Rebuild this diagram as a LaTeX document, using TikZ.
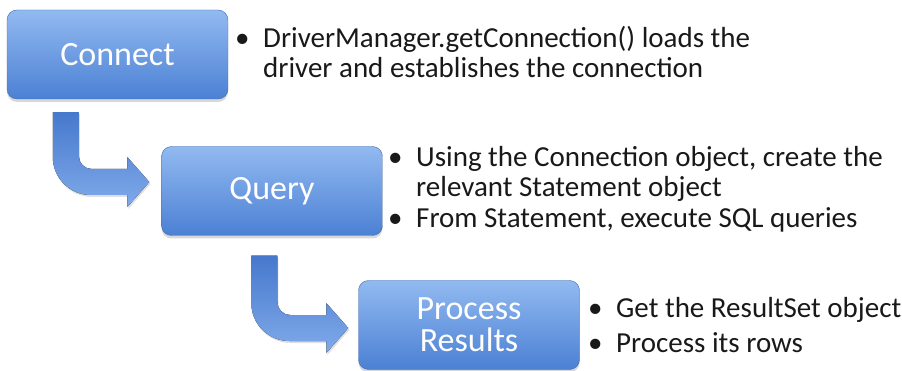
\documentclass[tikz,border=0pt]{standalone}
\usepackage{fontspec}
\setmainfont{Carlito}
\usetikzlibrary{calc,shadows}

\definecolor{boxtop}{RGB}{146,186,240}
\definecolor{boxbottom}{RGB}{75,128,212}
\definecolor{arrowtop}{RGB}{70,120,204}
\definecolor{arrowbottom}{RGB}{128,170,234}
\definecolor{notetext}{RGB}{25,25,25}

\tikzset{
  stage/.style={rounded corners=10pt, minimum width=221pt, minimum height=89pt,
    top color=boxtop, bottom color=boxbottom, draw=boxbottom!85!black, line width=0.4pt,
    text=white, align=center, font=\fontsize{34}{32}\selectfont,
    drop shadow={opacity=0.3, shadow xshift=0pt, shadow yshift=-3pt}},
  note/.style={anchor=base west, inner sep=0pt, align=left, text=notetext,
    font=\fontsize{29}{30}\selectfont},
  flowarrow/.style={top color=arrowtop, bottom color=arrowbottom,
    drop shadow={opacity=0.25, shadow xshift=1pt, shadow yshift=-2pt}}
}

\newcommand{\bul}{\makebox[28pt][l]{\textbullet}}
% bent block arrow: #1 = top left of the stem, #2 = tip
\newcommand{\bentarrow}[2]{%
  \fill[flowarrow] let \p1=(#1), \p2=(#2) in
    (\x1,\y1) -- (\x1,\y2+25pt) arc[start angle=180,end angle=270,radius=38pt]
    -- (\x2-22pt,\y2-13pt) -- (\x2-22pt,\y2-25pt) -- (\x2,\y2)
    -- (\x2-22pt,\y2+25pt) -- (\x2-22pt,\y2+13pt) -- (\x1+39pt,\y2+13pt)
    arc[start angle=270,end angle=180,radius=13pt] -- (\x1+26pt,\y1) -- cycle;}

\begin{document}
\begin{tikzpicture}[x=1pt, y=-1pt]
\useasboundingbox[fill=white] (0,0) rectangle (902,371);

% the three stages
\node[stage] (connect) at (117.5,54.5) {Connect};
\node[stage] (query) at (272,191) {Query};
\node[stage] (results) at (469,325) {Process\\Results};

% arrows between the stages
\coordinate (s1) at ([xshift=46pt,yshift=-13pt]connect.south west);
\coordinate (t1) at ([xshift=-12pt,yshift=9pt]query.west);
\coordinate (s2) at ([xshift=90pt,yshift=-20pt]query.south west);
\coordinate (t2) at ([xshift=-10pt,yshift=-3pt]results.west);
\bentarrow{s1}{t1}
\bentarrow{s2}{t2}

% notes (base = last line)
\node[note] (connectnote) at (235,78) {\bul DriverManager.getConnection() loads the\\\hspace*{28pt}driver and establishes the connection};
\node[note] (querynote) at (388,197) {\bul Using the Connection object, create the\\\hspace*{28pt}relevant Statement object};
\node[note] (querynote2) at (388,228) {\bul From Statement, execute SQL queries};
\node[note] (resultsnote) at (588,317) {\bul Get the ResultSet object};
\node[note] (resultsnote2) at (588,352) {\bul Process its rows};
\end{tikzpicture}
\end{document}
